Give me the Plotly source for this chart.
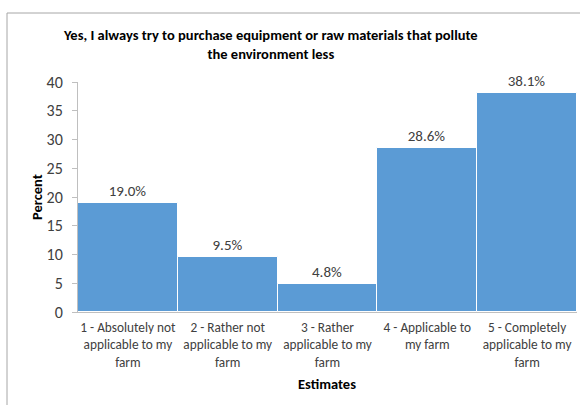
import plotly.graph_objects as go

categories = [
    "1 - Absolutely not<br>applicable to my<br>farm",
    "2 - Rather not<br>applicable to my<br>farm",
    "3 - Rather<br>applicable to my<br>farm",
    "4 - Applicable to<br>my farm",
    "5 - Completely<br>applicable to my<br>farm",
]
percent = [19.0, 9.5, 4.8, 28.6, 38.1]
y_ticks = [0, 5, 10, 15, 20, 25, 30, 35, 40]

title_text = "<b>Yes, I always try to purchase equipment or raw materials that pollute<br>the environment less</b>"

FONT = "Carlito, Calibri, Lato, sans-serif"
W, H = 580, 405
L, R, T, B = 78, 3, 82, 93
pw, ph = W - L - R, H - T - B


def px_x(px):
    return (px - L) / pw


def px_y(py):
    return (H - B - py) / ph


fig = go.Figure(
    go.Bar(
        x=categories,
        y=percent,
        marker=dict(color="#5B9BD5", line=dict(color="white", width=1)),
        text=[f"{v:.1f}%" for v in percent],
        textposition="outside",
        textfont=dict(family=FONT, size=15, color="#404040"),
        cliponaxis=False,
    )
)

fig.update_layout(
    width=W,
    height=H,
    margin=dict(l=L, r=R, t=T, b=B),
    paper_bgcolor="white",
    plot_bgcolor="white",
    bargap=0,
    showlegend=False,
    font=dict(family=FONT, size=14, color="#404040"),
    xaxis=dict(
        showline=True,
        linecolor="#bfbfbf",
        ticks="",
        ticklabelstandoff=3,
        tickfont=dict(family=FONT, size=13.3, color="#404040"),
        fixedrange=True,
    ),
    yaxis=dict(
        range=[0, 40],
        tickvals=y_ticks,
        showline=True,
        linecolor="#bfbfbf",
        ticks="outside",
        ticklen=5,
        tickcolor="#bfbfbf",
        ticklabelstandoff=6,
        showgrid=False,
        zeroline=False,
        tickfont=dict(family=FONT, size=16, color="#404040"),
    ),
    shapes=[
        dict(type="line", xref="paper", yref="paper",
             x0=px_x(7), x1=px_x(7), y0=px_y(405), y1=px_y(13),
             line=dict(color="#a6a6a6", width=1)),
        dict(type="line", xref="paper", yref="paper",
             x0=px_x(7), x1=px_x(580), y0=px_y(13), y1=px_y(13),
             line=dict(color="#a6a6a6", width=1)),
    ],
    annotations=[
        dict(text=title_text, xref="paper", yref="paper",
             x=px_x(270), y=px_y(44), xanchor="center", yanchor="middle",
             showarrow=False, align="center",
             font=dict(family=FONT, size=14.5, color="black")),
        dict(text="<b>Percent</b>", xref="paper", yref="paper",
             x=px_x(37), y=px_y(197), xanchor="center", yanchor="middle",
             textangle=-90, showarrow=False,
             font=dict(family=FONT, size=14.5, color="black")),
        dict(text="<b>Estimates</b>", xref="paper", yref="paper",
             x=px_x(327), y=px_y(384), xanchor="center", yanchor="middle",
             showarrow=False,
             font=dict(family=FONT, size=14.5, color="black")),
    ],
)

fig.write_html("out.html")
